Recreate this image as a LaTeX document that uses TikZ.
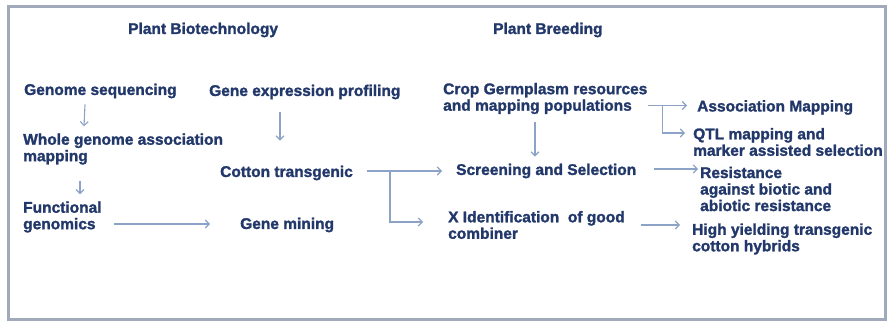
\documentclass[tikz,border=0pt]{standalone}
\usepackage{fontspec}
\setmainfont{Liberation Sans}[BoldFeatures={FakeBold=1.6}]
\usetikzlibrary{arrows.meta}
\definecolor{inkblue}{HTML}{22386A}
\definecolor{arrowblue}{HTML}{8CA2C6}
\definecolor{framegray}{HTML}{A0AABB}
\begin{document}
\begin{tikzpicture}[x=1pt,y=-1pt,
  lbl/.style={anchor=west,inner sep=0pt,align=left,text=inkblue,
    font=\fontsize{15.5}{16.5}\selectfont\bfseries},
  arr/.style={draw=arrowblue,line width=1.1pt,
    -{Straight Barb[length=4pt,width=8pt]}}]
\useasboundingbox (0,0) rectangle (889,321);
% outer frame
\draw[framegray,line width=3pt] (8,6.5) rectangle (885,319);

% column headings
\node[lbl] (hbio) at (128,30) {Plant Biotechnology};
\node[lbl] (hbre) at (493,30) {Plant Breeding};

% biotechnology column
\node[lbl] (gs)  at (24,91)  {Genome sequencing};
\node[lbl] (gep) at (209,92) {Gene expression profiling};
\node[lbl] (wg)  at (23,149) {Whole genome association\\mapping};
\node[lbl] (ct)  at (220,173) {Cotton transgenic};
\node[lbl] (fg)  at (23,217) {Functional\\genomics};
\node[lbl] (gm)  at (240,225) {Gene mining};

% breeding column
\node[lbl] (cg)  at (443,98.5) {Crop Germplasm resources\\and mapping populations};
\node[lbl] (am)  at (697,107.5) {Association Mapping};
\node[lbl] (qtl) at (693,142) {QTL mapping and\\marker assisted selection};
\node[lbl] (ss)  at (456,171) {Screening and Selection};
\node[lbl] (res) at (700,189) {Resistance\\against biotic and\\abiotic resistance};
\node[lbl] (xi)  at (448,225) {X Identification~ of good\\combiner};
\node[lbl] (hy)  at (692,239) {High yielding transgenic\\cotton hybrids};

% biotechnology arrows
\draw[arr] ([shift={(61,6)}]gs.south west) -- ([shift={(61,-7)}]wg.north west);
\draw[arr] ([shift={(71,13)}]gep.south west) -- ([shift={(60,-25)}]ct.north west);
\draw[arr] ([shift={(57,16)}]wg.south west) -- ([shift={(57,-7)}]fg.north west);
\draw[arr] ([shift={(12,7)}]fg.east) -- ([shift={(-30,-1)}]gm.west);

% cotton transgenic branches
\coordinate (j1) at ([shift={(37,-2)}]ct.east);
\draw[arr] ([shift={(14,-2)}]ct.east) -- ([shift={(-14,0)}]ss.west);
\draw[arr] (j1) |- ([shift={(-25,-3)}]xi.west);

% breeding arrows
\coordinate (j2) at ([shift={(15,7)}]cg.east);
\draw[arr] ([shift={(0,7)}]cg.east) -- ([shift={(-10,-2)}]am.west);
\draw[arr] (j2) |- ([shift={(-8,-9)}]qtl.west);
\draw[arr] ([shift={(92,8)}]cg.south west) -- ([shift={(79,-7)}]ss.north west);
\draw[arr] ([shift={(18,-2)}]ss.east) -- ([shift={(-2,-20)}]res.west);
\draw[arr] ([shift={(16,0)}]xi.east) -- ([shift={(-12,-14)}]hy.west);
\end{tikzpicture}
\end{document}
